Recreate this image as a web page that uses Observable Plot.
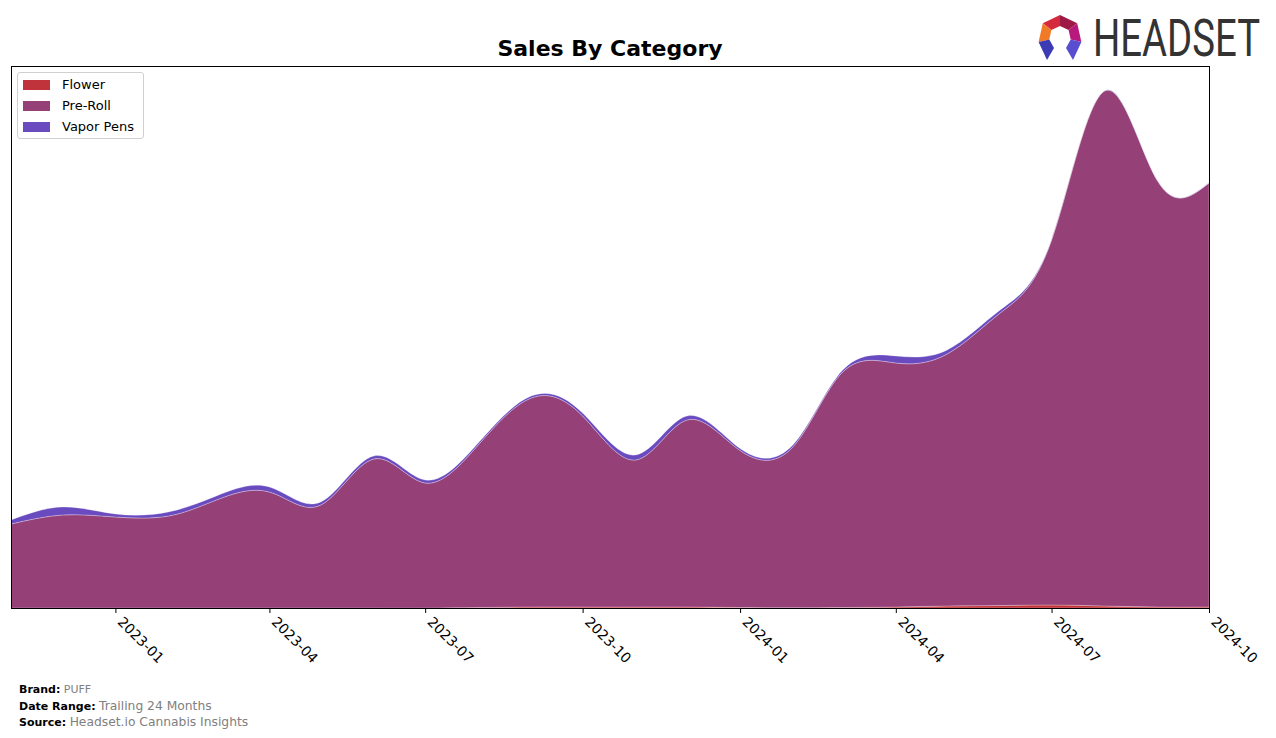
<!DOCTYPE html>
<html><head><meta charset="utf-8">
<script src="https://cdn.jsdelivr.net/npm/d3@7"></script>
<script src="https://cdn.jsdelivr.net/npm/@observablehq/plot@0.6"></script>
<style>
body{margin:0;background:#fff;font-family:"DejaVu Sans",sans-serif;}
#wrap{position:relative;width:1276px;height:738px;overflow:hidden;background:#fff}
#chart{position:absolute;left:0;top:0}
#title{position:absolute;left:11px;width:1198px;top:36px;text-align:center;font-weight:bold;font-size:22px;color:#000}
#legend{position:absolute;left:17px;top:72px;width:125px;height:65px;border:1px solid #d0d0d0;border-radius:3px;background:#fff}
.li{position:absolute;left:5px;height:14px;font-size:13px;line-height:14px;color:#000}
.sw{position:absolute;left:0;top:2px;width:27px;height:10px}
.lt{position:absolute;left:39px;top:0;white-space:nowrap}
#logo{position:absolute;left:1030px;top:0px}
#footer{position:absolute;left:19px;top:683px;font-size:11px;color:#000}
#footer div{height:16px;white-space:nowrap}
#footer b{font-weight:bold}
.g{color:#808080}
.g2{color:#808080;font-size:12.3px}
</style></head><body>
<div id="wrap">
  <div id="chart"></div>
  <div id="title">Sales By Category</div>
  <div id="legend"></div>
  <svg id="logo" width="246" height="70" viewBox="1030 0 246 70">
    <polygon points="1060,15 1042.8,23.3 1051.4,30.1 1060,26" fill="#d42a3c"/>
    <polygon points="1060,15 1077.2,23.3 1068.6,30.1 1060,26" fill="#9c1a45"/>
    <polygon points="1077.2,23.3 1081.4,41.9 1070.7,39.4 1068.6,30.1" fill="#b8197c"/>
    <polygon points="1042.8,23.3 1038.6,41.9 1049.3,39.4 1051.4,30.1" fill="#f07a26"/>
    <polygon points="1081.4,41.9 1073,60 1066,48 1070.7,39.4" fill="#5a4ed0"/>
    <polygon points="1038.6,41.9 1047,60 1054,48 1049.3,39.4" fill="#3c3bb3"/>
    <text transform="translate(1093,56) scale(1,1.4)" x="0" y="0" font-family="Roboto, 'DejaVu Sans'" font-size="37" fill="#333" textLength="167" lengthAdjust="spacingAndGlyphs">HEADSET</text>
  </svg>
  <div id="footer">
    <div><b>Brand:</b> <span class="g">PUFF</span></div>
    <div><b>Date Range:</b> <span class="g2">Trailing 24 Months</span></div>
    <div><b>Source:</b> <span class="g2">Headset.io Cannabis Insights</span></div>
  </div>
</div>
<script>
const months = ["2022-11","2022-12","2023-01","2023-02","2023-03","2023-04","2023-05","2023-06","2023-07","2023-08","2023-09","2023-10","2023-11","2023-12","2024-01","2024-02","2024-03","2024-04","2024-05","2024-06","2024-07","2024-08","2024-09","2024-10"];
const flower    = [0,0,0,0,0,0,0,0,0,0.5,1,1,1,1,0.5,0.3,0.5,1,2,2.5,3,2,1,1];
const preRoll   = [84,93,91,92,108,116,103,149,125,162.5,209,191,147,187,157,161,235.5,244,252,292.5,365,515,426,424];
const vaporPens = [4,8,3,4,4,5,3,3,3,2,2,3,5,4,2,2,2,7,4,3,0.5,0.3,0.2,0.2];
const categories = ["Flower","Pre-Roll","Vapor Pens"];
const colors = ["#c0333a","#964078","#6a4bbf"];
const tickLabels = ["2023-01","2023-04","2023-07","2023-10","2024-01","2024-04","2024-07","2024-10"];

const parse = s => new Date(s + "-01T00:00:00Z");
const series = {"Flower": flower, "Pre-Roll": preRoll, "Vapor Pens": vaporPens};
const data = categories.flatMap(c => months.map((m, i) => ({date: parse(m), category: c, value: series[c][i]})));
const tickDates = tickLabels.map(parse);

const plot = Plot.plot({
  width: 1276, height: 738,
  marginLeft: 11, marginRight: 67, marginTop: 66, marginBottom: 130,
  x: {type: "utc", domain: [parse(months[0]), parse(months[months.length - 1])], label: null},
  y: {domain: [0, 542], axis: null},
  color: {domain: categories, range: colors},
  marks: [
    Plot.areaY(data, {x: "date", y: "value", fill: "category", order: categories, curve: "natural", clip: true,
      stroke: "white", strokeOpacity: 0.35, strokeWidth: 0.8}),
    Plot.axisX(tickDates, {tickSize: 5, tickFormat: () => "", label: null}),
    Plot.axisX(tickDates, {tickSize: 0, tickPadding: 11, dx: 4, tickRotate: 45, tickFormat: d3.utcFormat("%Y-%m"), label: null}),
    Plot.frame({stroke: "black", strokeWidth: 1})
  ],
  style: {fontFamily: "DejaVu Sans", fontSize: "14px", color: "black", background: "white", overflow: "visible"}
});
document.getElementById("chart").appendChild(plot);

const legend = document.getElementById("legend");
categories.forEach((c, i) => {
  const row = document.createElement("div");
  row.className = "li";
  row.style.top = (5 + i * 21) + "px";
  row.innerHTML = `<div class="sw" style="background:${colors[i]}"></div><div class="lt">${c}</div>`;
  legend.appendChild(row);
});
</script>
</body></html>
